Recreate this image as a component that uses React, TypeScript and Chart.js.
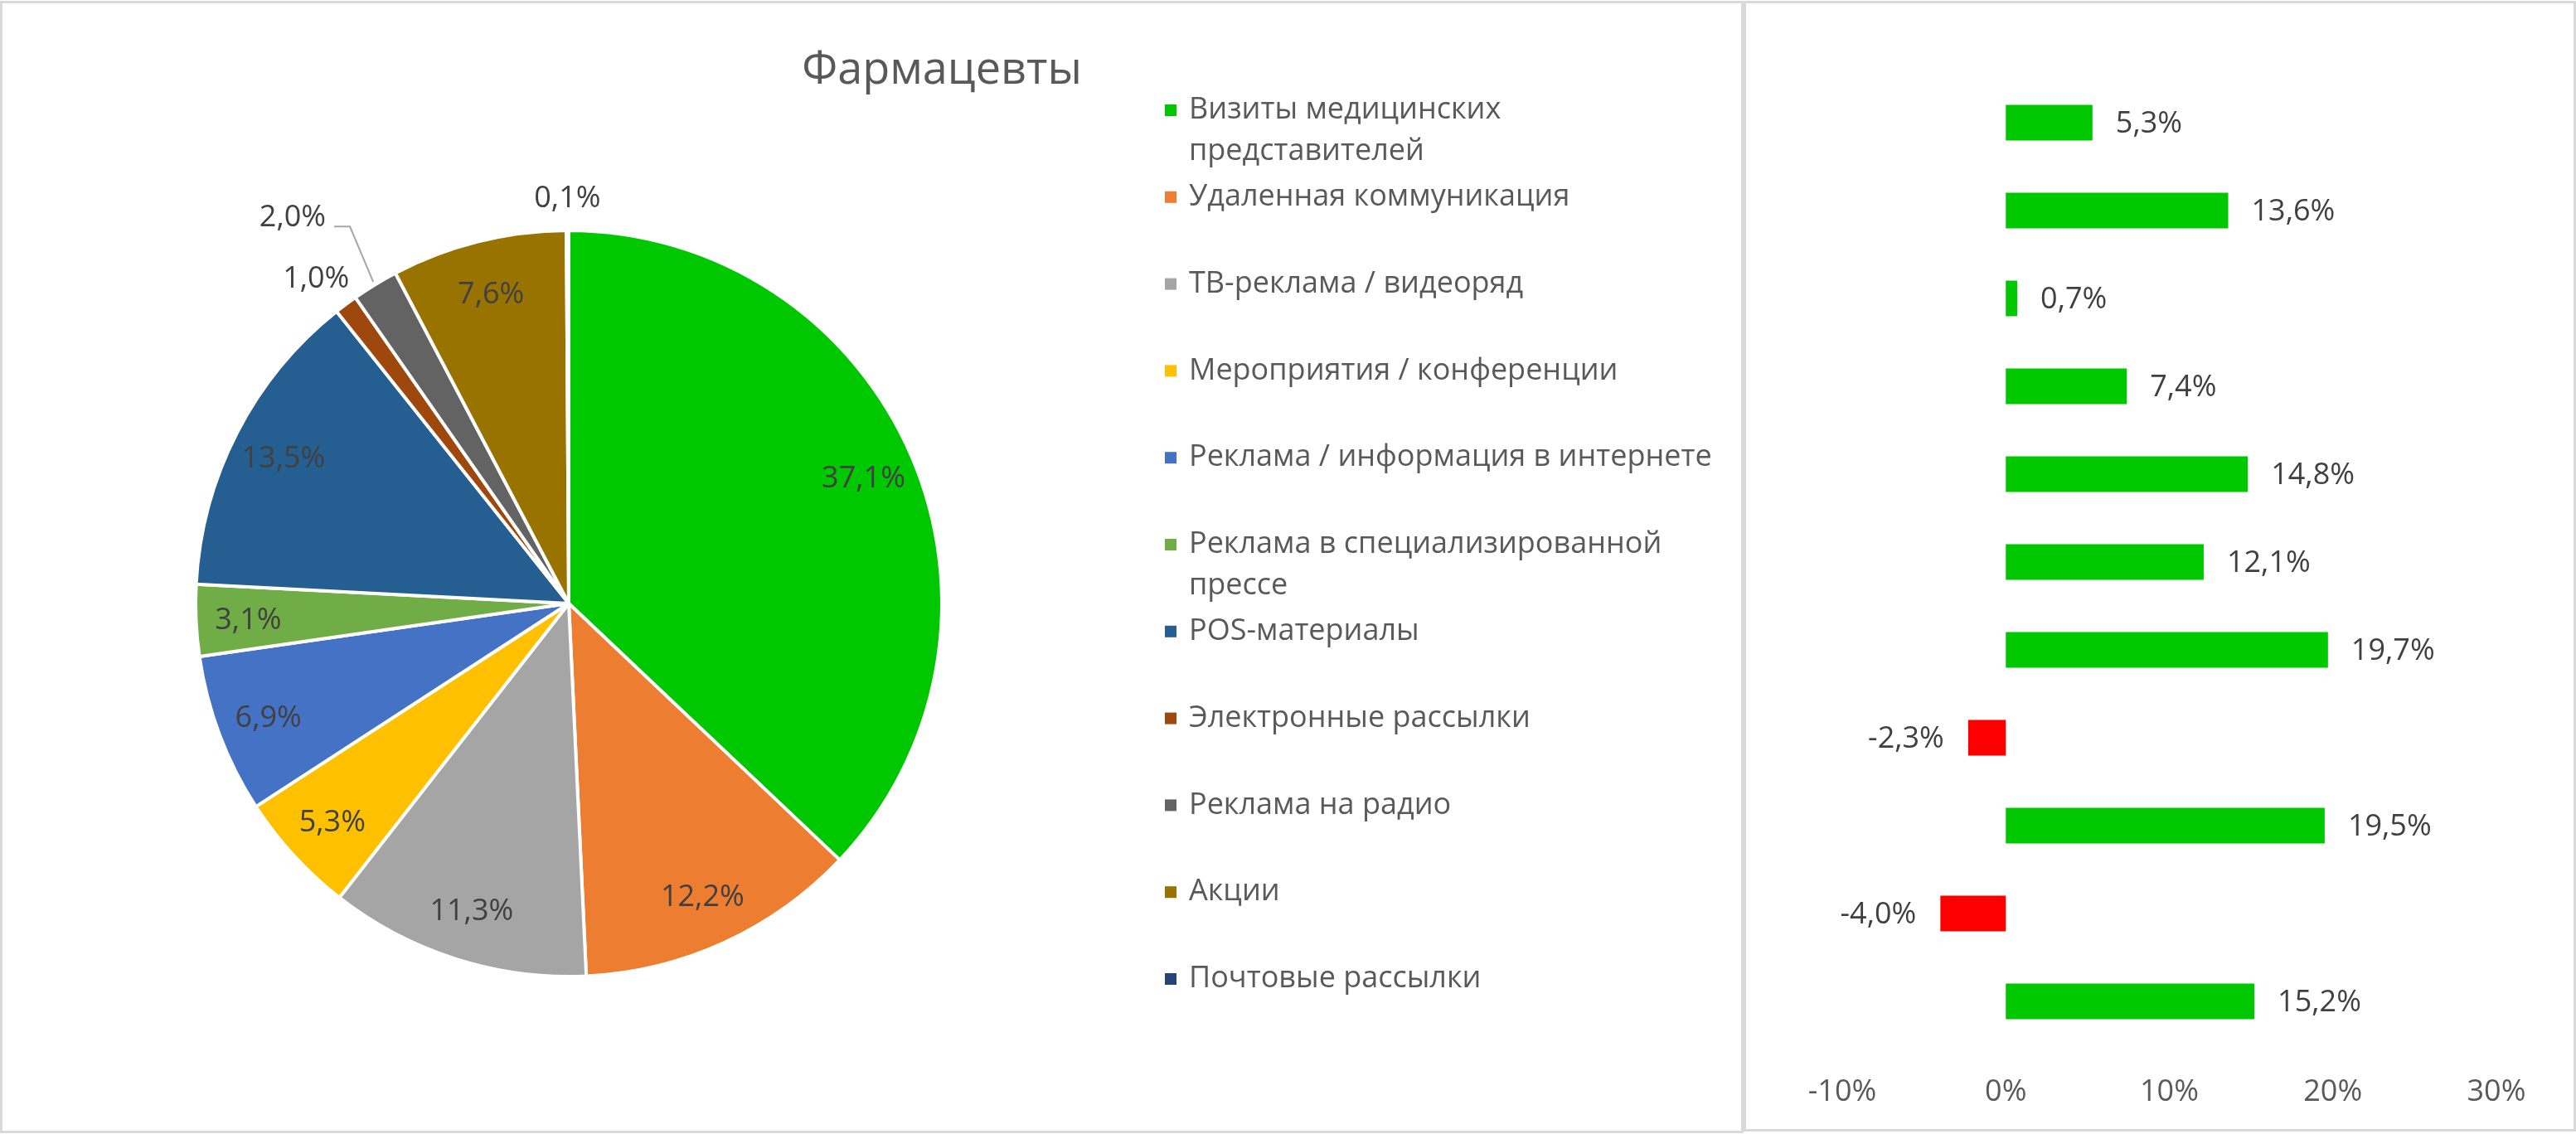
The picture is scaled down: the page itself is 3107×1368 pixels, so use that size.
import { useEffect, useRef } from 'react';
import { Chart, registerables } from 'chart.js';

Chart.register(...registerables);

const FONT = "'Open Sans', 'Noto Sans', sans-serif";

// Data
const categories = [
  'Визиты медицинских представителей',
  'Удаленная коммуникация',
  'ТВ-реклама / видеоряд',
  'Мероприятия / конференции',
  'Реклама / информация в интернете',
  'Реклама в специализированной прессе',
  'POS-материалы',
  'Электронные рассылки',
  'Реклама на радио',
  'Акции',
  'Почтовые рассылки',
];
const shareValues = [37.1, 12.2, 11.3, 5.3, 6.9, 3.1, 13.5, 1.0, 2.0, 7.6, 0.1];
const changeValues = [5.3, 13.6, 0.7, 7.4, 14.8, 12.1, 19.7, -2.3, 19.5, -4.0, 15.2];
const changeTicks = [-10, 0, 10, 20, 30];
const sliceColors = [
  '#00C800', '#ED7D31', '#A5A5A5', '#FFC000', '#4472C4', '#70AD47',
  '#255E91', '#9E480E', '#636363', '#997300', '#264478',
];
const chartTitle = 'Фармацевты';

const fmt = (v: number) => v.toFixed(1).replace('.', ',') + '%';

function wrapText(ctx: CanvasRenderingContext2D, text: string, maxWidth: number) {
  const words = text.split(' ');
  const lines: string[] = [];
  let line = '';
  for (const w of words) {
    const test = line ? line + ' ' + w : w;
    if (line && ctx.measureText(test).width > maxWidth) {
      lines.push(line);
      line = w;
    } else {
      line = test;
    }
  }
  lines.push(line);
  return lines;
}

// title + legend drawn next to the pie
const pieDecor = {
  id: 'pieDecor',
  afterDraw(chart: any) {
    const ctx = chart.ctx as CanvasRenderingContext2D;
    ctx.save();
    ctx.fillStyle = '#595959';
    ctx.font = `54px ${FONT}`;
    ctx.textAlign = 'center';
    ctx.textBaseline = 'alphabetic';
    ctx.fillText(chartTitle, 1133, 97);

    ctx.font = `36px ${FONT}`;
    ctx.textAlign = 'left';
    ctx.textBaseline = 'middle';
    const labels: string[] = chart.data.labels;
    const colors: string[] = chart.data.datasets[0].backgroundColor;
    labels.forEach((label, i) => {
      const y = 129 + i * 104.8;
      ctx.fillStyle = colors[i];
      ctx.fillRect(1402, y - 7, 14, 14);
      ctx.fillStyle = '#595959';
      wrapText(ctx, label, 650).forEach((ln, j) => {
        ctx.fillText(ln, 1431, y + j * 50);
      });
    });
    ctx.restore();
  },
};

// percentage labels on the slices
const pieLabels = {
  id: 'pieLabels',
  afterDatasetsDraw(chart: any) {
    const ctx = chart.ctx as CanvasRenderingContext2D;
    const meta = chart.getDatasetMeta(0);
    const values: number[] = chart.data.datasets[0].data;
    ctx.save();
    ctx.font = `36px ${FONT}`;
    ctx.fillStyle = '#404040';
    ctx.textAlign = 'center';
    ctx.textBaseline = 'middle';
    const placed: { x: number; y: number; w: number }[] = [];
    meta.data.forEach((arc: any, i: number) => {
      const { x, y, startAngle, endAngle, outerRadius } = arc.getProps(
        ['x', 'y', 'startAngle', 'endAngle', 'outerRadius'],
        true
      );
      const mid = (startAngle + endAngle) / 2;
      const cx = Math.cos(mid);
      const cy = Math.sin(mid);
      const text = fmt(values[i]);
      const w = ctx.measureText(text).width;
      if (values[i] >= 2.5) {
        const d = outerRadius * 0.86;
        ctx.fillText(text, x + cx * d, y + cy * d + 3);
        return;
      }
      // outside label: box edge just beyond the rim
      const d0 = outerRadius + 20;
      let lx = x + cx * d0 + (cx * w) / 2;
      let ly = y + cy * d0 + cy * 18;
      const hit = placed.some(
        (p) => Math.abs(p.x - lx) < (p.w + w) / 2 && Math.abs(p.y - ly) < 36
      );
      if (hit) {
        const d = outerRadius + 95;
        lx = x + cx * d - 50;
        ly = y + cy * d;
        const right = lx + w / 2;
        ctx.strokeStyle = '#A6A6A6';
        ctx.lineWidth = 2;
        ctx.beginPath();
        ctx.moveTo(x + cx * (outerRadius + 4), y + cy * (outerRadius + 4));
        ctx.lineTo(right + 29, ly + 11);
        ctx.lineTo(right + 10, ly + 11);
        ctx.stroke();
      }
      placed.push({ x: lx, y: ly, w });
      ctx.fillText(text, lx, ly);
    });
    ctx.restore();
  },
};

// value labels next to the bars
const barLabels = {
  id: 'barLabels',
  afterDatasetsDraw(chart: any) {
    const ctx = chart.ctx as CanvasRenderingContext2D;
    const meta = chart.getDatasetMeta(0);
    const values: number[] = chart.data.datasets[0].data;
    ctx.save();
    ctx.font = `36px ${FONT}`;
    ctx.fillStyle = '#404040';
    ctx.textBaseline = 'middle';
    meta.data.forEach((bar: any, i: number) => {
      const { x, y } = bar.getProps(['x', 'y'], true);
      const v = values[i];
      if (v >= 0) {
        ctx.textAlign = 'left';
        ctx.fillText(fmt(v), x + 28, y + 2);
      } else {
        ctx.textAlign = 'right';
        ctx.fillText(fmt(v), x - 29, y + 2);
      }
    });
    ctx.restore();
  },
};

function PieChart() {
  const canvasRef = useRef<HTMLCanvasElement>(null);
  useEffect(() => {
    if (!canvasRef.current) return;
    const chart = new Chart(canvasRef.current, {
      type: 'pie',
      data: {
        labels: categories,
        datasets: [
          {
            data: shareValues,
            backgroundColor: sliceColors,
            borderColor: '#FFFFFF',
            borderWidth: 4,
          },
        ],
      },
      options: {
        responsive: true,
        maintainAspectRatio: false,
        animation: false,
        radius: 450,
        layout: { padding: { left: 183, right: 914, top: 224, bottom: 136 } },
        plugins: {
          legend: { display: false },
          title: { display: false },
          tooltip: { enabled: false },
        },
        events: [],
      } as any,
      plugins: [pieLabels, pieDecor],
    });
    return () => chart.destroy();
  }, []);
  return (
    <div style={{ position: 'relative', width: 2097, height: 1360 }}>
      <canvas ref={canvasRef} />
    </div>
  );
}

function BarChart() {
  const canvasRef = useRef<HTMLCanvasElement>(null);
  useEffect(() => {
    if (!canvasRef.current) return;
    const chart = new Chart(canvasRef.current, {
      type: 'bar',
      data: {
        labels: categories,
        datasets: [
          {
            data: changeValues,
            backgroundColor: changeValues.map((v) => (v < 0 ? '#FF0000' : '#00C800')),
            borderWidth: 0,
            barPercentage: 0.405,
            categoryPercentage: 1,
          },
        ],
      },
      options: {
        indexAxis: 'y',
        responsive: true,
        maintainAspectRatio: false,
        animation: false,
        layout: { padding: { left: 116, right: 93, top: 91, bottom: 21 } },
        scales: {
          x: {
            min: changeTicks[0],
            max: changeTicks[changeTicks.length - 1],
            afterBuildTicks: (axis: any) => {
              axis.ticks = changeTicks.map((value) => ({ value }));
            },
            afterFit: (axis: any) => {
              axis.height = 80;
            },
            grid: { display: false, drawTicks: false },
            border: { display: false },
            ticks: {
              color: '#595959',
              font: { family: FONT, size: 36 },
              padding: 35,
              maxRotation: 0,
              callback: (v: any) => `${v}%`,
            },
          },
          y: { display: false },
        },
        plugins: {
          legend: { display: false },
          title: { display: false },
          tooltip: { enabled: false },
        },
        events: [],
      } as any,
      plugins: [barLabels],
    });
    return () => chart.destroy();
  }, []);
  return (
    <div style={{ position: 'relative', width: 998, height: 1358 }}>
      <canvas ref={canvasRef} />
    </div>
  );
}

export default function App() {
  useEffect(() => {
    document.body.style.margin = '0';
    document.body.style.overflow = 'hidden';
  }, []);
  const panel = {
    position: 'absolute' as const,
    boxSizing: 'border-box' as const,
    border: '3px solid #D9D9D9',
    background: '#FFFFFF',
  };
  return (
    <div style={{ position: 'relative', width: 3107, height: 1368, background: '#FFFFFF' }}>
      <div style={{ ...panel, left: 0, top: 1, width: 2103, height: 1366 }}>
        <PieChart />
      </div>
      <div style={{ ...panel, left: 2103, top: 1, width: 1004, height: 1364 }}>
        <BarChart />
      </div>
    </div>
  );
}
